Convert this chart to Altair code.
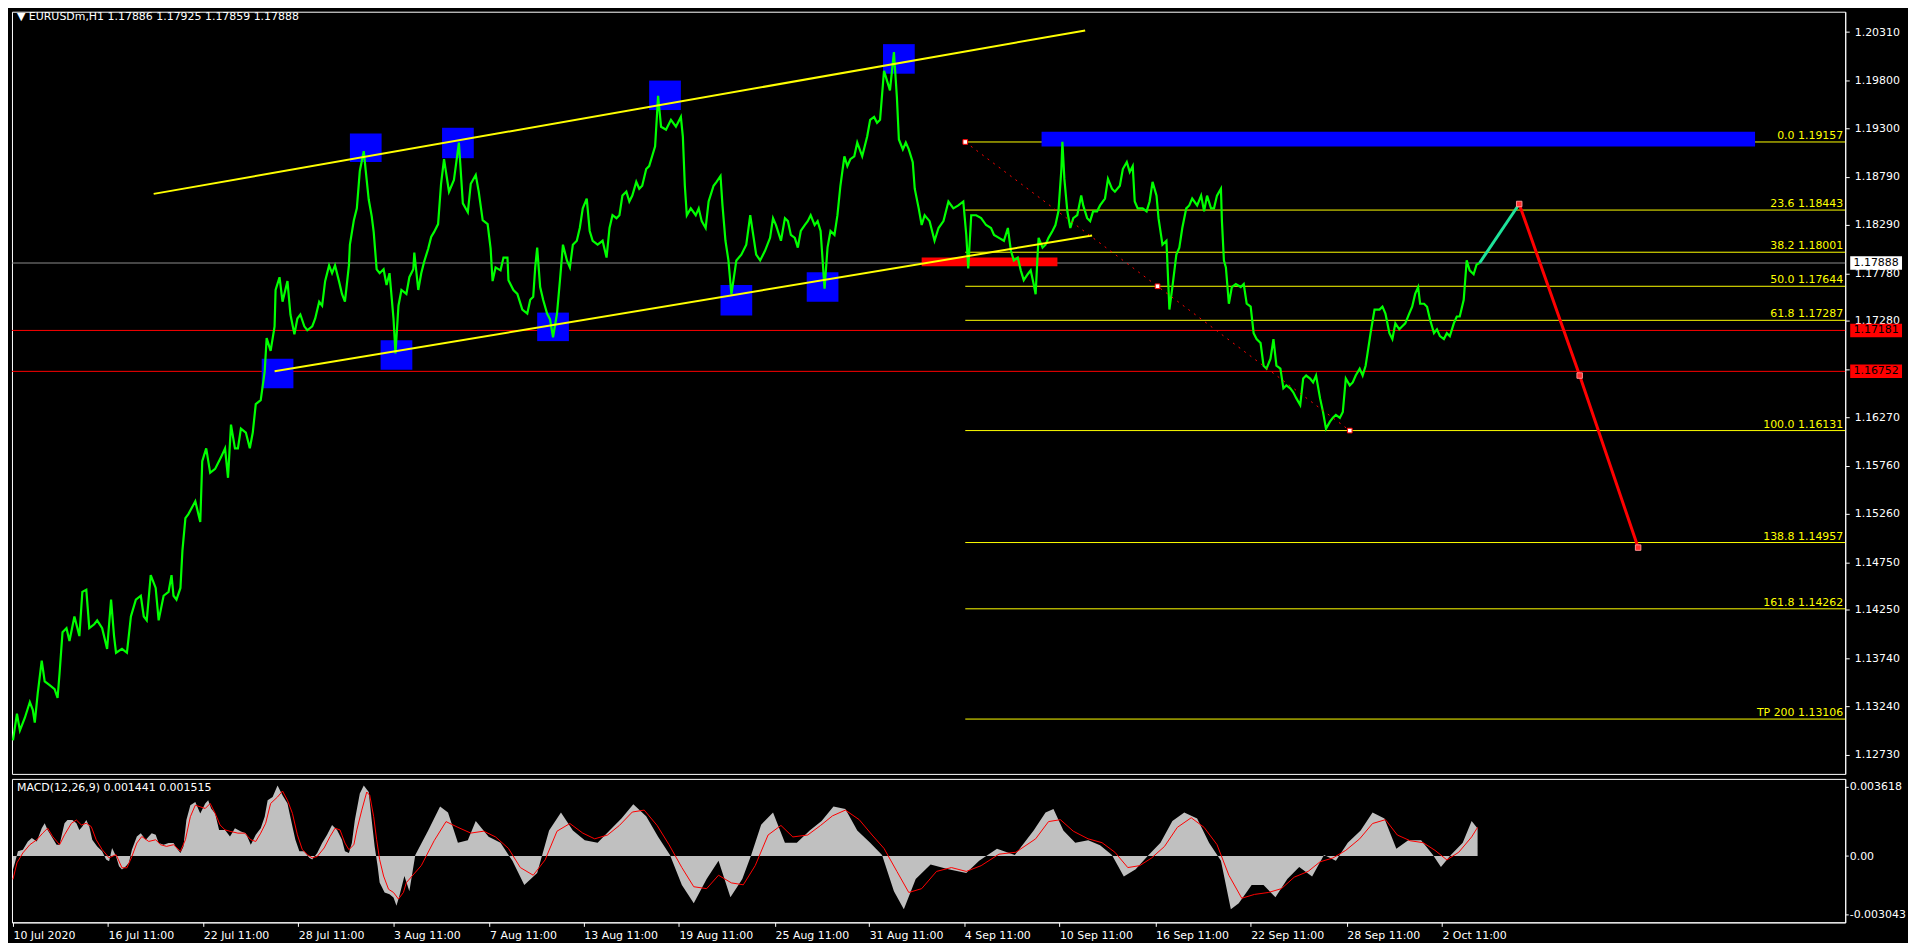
import altair as alt
import pandas as pd

# ---------------- data ----------------
bars = [3, 7, 10, 15, 20, 23, 25, 28, 32, 35, 40, 45, 48, 50, 53, 57, 60, 65, 70, 73, 77, 80, 85, 88, 93, 98,
        102, 105, 107, 113, 118, 122, 127, 132, 135, 138, 142, 147, 150, 155, 160, 163, 165, 168, 172, 174, 177,
        180, 187, 192, 194, 198, 202, 207, 213, 217, 220, 223, 227, 230, 233, 238, 242, 245, 248, 253, 257, 259,
        263, 267, 268, 272, 275, 280, 283, 287, 290, 293, 297, 300, 305, 308, 312, 315, 318, 322, 325, 328, 332,
        335, 338, 342, 343, 347, 350, 353, 357, 359, 362, 365, 367, 370, 373, 377, 380, 383, 387, 389, 392, 395,
        400, 403, 407, 408, 412, 415, 418, 422, 425, 428, 432, 435, 438, 443, 448, 453, 457, 462, 465, 470, 473,
        477, 482, 485, 487,
        490, 495, 498, 502, 503, 508, 512, 517, 522, 525, 528, 530, 532, 535, 538, 542, 545, 548, 552, 555, 558,
        562, 565, 568, 572, 575, 578, 582, 585, 588, 593, 598, 602, 605, 608, 612, 615, 618, 622, 625, 628, 632,
        635, 638, 642, 645, 648, 651, 653, 654, 657, 662, 667, 672, 677, 679, 681, 683, 687, 692, 695, 698, 702,
        705, 710, 713, 717, 719, 722, 725, 728, 733, 738, 743, 747, 750, 753, 757, 762, 767, 770, 773, 778, 782,
        785, 788, 792, 795, 798, 802, 805, 808, 812, 815, 818, 822, 825, 828, 832, 835, 838, 842, 845, 848, 852,
        855, 860, 865, 868, 872, 875, 878, 882, 885, 888, 892, 895, 897, 901, 904, 907, 911, 913, 917, 920, 923,
        928, 933, 937, 942, 947, 952, 957, 962, 965, 967, 970, 975, 980, 985,
        990, 993, 998, 1003, 1007, 1010, 1013, 1017, 1020, 1023, 1027, 1030, 1033, 1035, 1037, 1038, 1042, 1045,
        1048, 1052, 1055, 1058, 1061, 1062, 1064, 1067, 1070, 1073, 1077, 1081, 1083, 1087, 1090, 1093, 1097,
        1100, 1105, 1108, 1112, 1115, 1120, 1123, 1127, 1130, 1133, 1135, 1138, 1143, 1147, 1150, 1153, 1157,
        1159, 1163, 1167, 1170, 1173, 1177, 1180, 1183, 1187, 1190, 1193, 1198, 1202, 1205, 1208, 1212, 1215,
        1218, 1222, 1223, 1225, 1227, 1230, 1233, 1237, 1242, 1245, 1248, 1252, 1255, 1258, 1262, 1265, 1268,
        1272, 1275, 1278, 1282, 1285, 1288, 1292, 1295, 1298, 1302, 1305, 1308, 1312, 1315, 1318, 1322, 1325,
        1328, 1332, 1335, 1338, 1342, 1345, 1348, 1352, 1355, 1358, 1362, 1365, 1368, 1370, 1373, 1377, 1382,
        1385, 1388, 1392, 1395, 1398, 1402, 1405, 1408, 1412, 1415, 1418, 1421, 1423, 1427, 1430, 1433, 1437,
        1440, 1443, 1447, 1450, 1453, 1457, 1460, 1463, 1467, 1470, 1473, 1477, 1480, 1483]

close = [1.12883, 1.13162, 1.12986, 1.13120, 1.13285, 1.13203, 1.13069, 1.13378, 1.13718, 1.13502, 1.13461,
         1.13419, 1.13327, 1.13584, 1.14017, 1.14059, 1.13925, 1.14182, 1.13976, 1.14440, 1.14461, 1.14059,
         1.14100, 1.14141, 1.14059, 1.13842,
         1.14358, 1.13976, 1.13801, 1.13842, 1.13801, 1.14182, 1.14358, 1.14399, 1.14182, 1.14141, 1.14615,
         1.14481, 1.14141, 1.14399, 1.14440, 1.14615, 1.14399, 1.14358, 1.14481, 1.14873, 1.15213,
         1.15255, 1.15389, 1.15172, 1.15811, 1.15945, 1.15688, 1.15729, 1.15853, 1.15945, 1.15636, 1.16193,
         1.15945, 1.15945, 1.16152, 1.16110, 1.15945, 1.16110, 1.16409, 1.16451, 1.16750, 1.17100,
         1.16966, 1.17224, 1.17605, 1.17739, 1.17482, 1.17698, 1.17348, 1.17141, 1.17306, 1.17348, 1.17224,
         1.17183, 1.17224, 1.17306, 1.17482, 1.17440, 1.17698, 1.17863, 1.17781, 1.17863, 1.17698,
         1.17564, 1.17482, 1.17863, 1.18080, 1.18337, 1.18461, 1.18853, 1.19060, 1.18853, 1.18554, 1.18379,
         1.18214, 1.17822, 1.17781, 1.17822, 1.17657, 1.17781, 1.17306, 1.16940, 1.17440, 1.17605,
         1.17564, 1.17739, 1.17822, 1.17997, 1.17605, 1.17781, 1.17904, 1.18038, 1.18162, 1.18214, 1.18296,
         1.18719, 1.18976, 1.18636, 1.18760, 1.19150, 1.18513, 1.18420, 1.18719, 1.18812, 1.18636,
         1.18337, 1.18296, 1.18038, 1.17698,
         1.17842, 1.17811, 1.17945, 1.17945, 1.17708, 1.17605, 1.17564, 1.17399, 1.17358, 1.17502, 1.17533,
         1.17842, 1.18049, 1.17636, 1.17502, 1.17358, 1.17296, 1.17110, 1.17358, 1.17708, 1.18080,
         1.17915, 1.17842, 1.18080, 1.18121, 1.18255, 1.18461, 1.18564, 1.18224, 1.18121, 1.18080, 1.18121,
         1.17945, 1.18255, 1.18389, 1.18358, 1.18389, 1.18595, 1.18636, 1.18533, 1.18595, 1.18739,
         1.18667, 1.18698, 1.18873, 1.18904, 1.19007, 1.19111, 1.19461, 1.19640, 1.19317, 1.19286, 1.19389,
         1.19317, 1.19420, 1.19214, 1.18698, 1.18389, 1.18461, 1.18389, 1.18461, 1.18327, 1.18255,
         1.18533, 1.18698, 1.18739, 1.18801, 1.18492, 1.18121, 1.17915, 1.17560, 1.17915, 1.17976, 1.18080,
         1.18389, 1.18183, 1.17976, 1.17915, 1.18018, 1.18152, 1.18358, 1.18286, 1.18121, 1.18358,
         1.18327, 1.18183, 1.18152, 1.18049, 1.18224, 1.18286, 1.18327, 1.18389, 1.18286, 1.18327, 1.18224,
         1.17620, 1.18049, 1.18224, 1.18183, 1.18389, 1.18698, 1.19007, 1.18904, 1.18976, 1.19007,
         1.19152, 1.19007, 1.19214, 1.19389, 1.19420, 1.19358, 1.19389, 1.19904, 1.19801, 1.19698, 1.20100,
         1.19626, 1.19183, 1.19080, 1.19152, 1.19080, 1.18946, 1.18667, 1.18461, 1.18286, 1.18389,
         1.18327, 1.18121, 1.18255, 1.18327, 1.18533, 1.18461, 1.18492, 1.18533, 1.18183, 1.17830, 1.18389,
         1.18389, 1.18358, 1.18286,
         1.18255, 1.18183, 1.18152, 1.18121, 1.18255, 1.18018, 1.17915, 1.17945, 1.17811, 1.17708, 1.17770,
         1.17811, 1.17667, 1.17560, 1.17976, 1.18152, 1.18049, 1.18080,
         1.18152, 1.18224, 1.18286, 1.18430, 1.18873, 1.19160, 1.18770, 1.18430, 1.18255, 1.18358, 1.18389,
         1.18595, 1.18492, 1.18358, 1.18327, 1.18430, 1.18430,
         1.18492, 1.18564, 1.18770, 1.18667, 1.18636, 1.18698, 1.18873, 1.18946, 1.18842, 1.18904, 1.18533,
         1.18461, 1.18461, 1.18430, 1.18533, 1.18739, 1.18595,
         1.18358, 1.18080, 1.18121, 1.17400, 1.17636, 1.17976, 1.18049, 1.18255, 1.18461, 1.18492, 1.18564,
         1.18492, 1.18595, 1.18430, 1.18595, 1.18461, 1.18461,
         1.18595, 1.18667, 1.18327, 1.17915, 1.17842, 1.17461, 1.17636, 1.17667, 1.17636, 1.17667, 1.17461,
         1.17430, 1.17152, 1.17090, 1.17049, 1.16811, 1.16780,
         1.16884, 1.17090, 1.16811, 1.16780, 1.16574, 1.16605, 1.16574, 1.16533, 1.16471, 1.16399, 1.16677,
         1.16708, 1.16677, 1.16636, 1.16708, 1.16471, 1.16327,
         1.16150, 1.16224, 1.16265, 1.16296, 1.16265, 1.16327, 1.16677, 1.16605, 1.16636, 1.16708, 1.16780,
         1.16708, 1.16811, 1.16945, 1.17152, 1.17399, 1.17399,
         1.17430, 1.17358, 1.17152, 1.17090, 1.17255, 1.17193, 1.17224, 1.17255, 1.17358, 1.17430, 1.17564,
         1.17636, 1.17461, 1.17461, 1.17430, 1.17296, 1.17152,
         1.17193, 1.17121, 1.17090, 1.17152, 1.17121, 1.17255, 1.17327, 1.17327, 1.17502, 1.17915, 1.17811,
         1.17770, 1.17873, 1.17888]

# MACD histogram (main line) and signal line
macd_bars = [3, 5, 8, 13, 18, 22, 27, 32, 35, 38, 42, 47, 50, 55, 58, 63, 67, 70, 73, 77, 80, 83, 88, 93, 97,
             100, 103, 107, 110, 113, 117, 120, 123, 128, 132, 137, 140, 143, 147, 150, 155, 160, 165, 168, 172,
             175, 178, 182, 187, 192, 197, 200, 203, 207, 211, 217, 222, 227, 233, 238, 243, 248, 253, 257, 260,
             265, 270, 275, 280, 285, 288, 292, 297, 302, 305, 310, 315, 320, 325, 330, 335, 338, 342, 345, 348,
             353, 357, 362, 365, 368, 371, 373, 378, 383, 387, 390, 393, 398,
             403, 409, 422, 434, 442, 452, 462, 470, 483, 495, 507, 519, 532, 544, 556, 568, 580, 593, 605, 617,
             629, 642, 654, 666, 678, 690, 703, 715, 727, 739, 748, 758, 770, 782, 794, 807, 819, 831, 843, 855,
             868, 880, 892, 902, 914, 929, 947, 965, 978, 996, 1014, 1033, 1045, 1053, 1063, 1075, 1088, 1100,
             1112, 1124, 1136, 1149, 1161, 1173, 1185, 1198, 1210, 1222, 1232, 1240, 1253, 1265, 1277, 1289, 1301,
             1314, 1326, 1338, 1350, 1363, 1375, 1387, 1399, 1411, 1424, 1436, 1444, 1454, 1466, 1475, 1481]
macd_main = [-0.000697, -0.000351, 0.000248, 0.000335, 0.000764, 0.000939, 0.000764, 0.001455, 0.001713,
             0.001367, 0.001022, 0.000593, 0.000593, 0.001713, 0.001883, 0.001883, 0.001713, 0.001367, 0.001538,
             0.001883, 0.001538, 0.000851, 0.000506, 0.000248, -0.000181,
             -0.000268, 0.000423, -0.000010, -0.000526, -0.000697, -0.000526, -0.000351, 0.000335, 0.001022,
             0.001197, 0.000851, 0.001022, 0.001197, 0.001109, 0.000681, 0.000593, 0.000681, 0.000681, 0.000423,
             0.000165,
             0.000506, 0.001883, 0.002657, 0.002828, 0.002229, 0.002745, 0.002915, 0.002487, 0.002229, 0.001367,
             0.001367, 0.001022, 0.001455, 0.001280, 0.001197, 0.000593, 0.001109, 0.001455, 0.002054, 0.002915,
             0.003086, 0.003689, 0.003173, 0.002745, 0.001538, 0.000851, 0.000248, 0.000248, -0.000093,
             -0.000181, 0.000165, 0.000681, 0.001109, 0.001625, 0.001367, 0.000851, 0.000248, 0.000165,
             0.000681, 0.001883,
             0.003261, 0.003689, 0.003344, 0.001883, 0.000506, -0.000526, -0.001383, -0.001899, -0.001987,
             -0.002157, -0.002590, -0.002074, -0.001042,
             -0.00183, 0.00006, 0.00133, 0.00259, 0.00227, 0.00069, 0.00082, 0.00183, 0.00101, 0.00069, -0.00025,
             -0.00151, -0.00088, 0.00133, 0.00227, 0.00133, 0.00082, 0.00069, 0.00133, 0.00196,
             0.00271, 0.00208, 0.00101, 0.00006, -0.00151, -0.00246, -0.00120, -0.00025, -0.00215, -0.00120,
             0.00006, 0.00164, 0.00227, 0.00069, 0.00069, 0.00133, 0.00183, 0.00259, 0.00246, 0.00133,
             0.00069, 0.00006, -0.00183, -0.00278, -0.00120, -0.00044, -0.00069, -0.00088, -0.00025, 0.00038,
             0.00006, 0.00133, 0.00227, 0.00246, 0.00133, 0.00069, 0.00082, 0.00057,
             0.00006, -0.00107, -0.00069, 0.00006, 0.00069, 0.00183, 0.00227, 0.00196, 0.00069, -0.00025,
             -0.00278, -0.00246, -0.00151, -0.00151, -0.00215, -0.00120, -0.00057,
             -0.00107, 0.00006, -0.00025, 0.00069, 0.00133, 0.00227, 0.00196, 0.00038, 0.00082, 0.00082,
             0.00006, -0.00057, 0.00006, 0.00069, 0.00183, 0.00144]

signal_bars = [3, 7, 13, 20, 27, 33, 38, 43, 50, 55, 62, 67, 72, 77, 82, 87, 93, 100, 107, 113, 118, 123, 128,
               133, 140, 147, 152, 158, 165, 172, 177, 182, 187, 192, 197, 202, 207, 212, 217, 223, 230, 237,
               243, 248, 253, 258, 263, 270, 275, 280, 285, 290, 295, 300, 305, 310, 317, 323, 328, 333, 338,
               342, 347, 350, 355, 360, 363, 367, 370, 373, 377, 382, 387, 392, 397, 400,
               415, 428, 440, 452, 465, 478, 490, 503, 515, 528, 540, 552, 565, 578, 590, 603, 615, 628, 640,
               653, 665, 678, 690, 703, 715, 728, 740, 752, 765, 778, 790, 805, 818, 830, 843, 857, 870, 882,
               895, 907, 920, 935, 950, 965, 980, 998, 1015, 1035, 1048, 1060, 1073, 1088, 1102, 1115, 1128,
               1140, 1152, 1165, 1178, 1192, 1205, 1218, 1230, 1243, 1256, 1270, 1283, 1296, 1310, 1322, 1335,
               1348, 1362, 1375, 1388, 1400, 1413, 1426, 1438, 1450, 1462, 1475, 1481]
signal_vals = [-0.001213, -0.000351, 0.000165, 0.000593, 0.000851, 0.001197, 0.001455, 0.001022, 0.000593,
               0.001109, 0.001713, 0.001883, 0.001625, 0.001713, 0.001538, 0.000851, 0.000335, -0.000093,
               0.000078, -0.000611, -0.000611, -0.000024, 0.000681, 0.001022, 0.000764, 0.000851, 0.000593,
               0.000506, 0.000593, 0.000248, 0.000851, 0.002054, 0.002657, 0.002570, 0.002487, 0.002745,
               0.002229, 0.001625, 0.001367, 0.001280, 0.001197, 0.001197, 0.000851, 0.000764, 0.001197,
               0.001713, 0.002745, 0.003086, 0.003395, 0.002915, 0.002229, 0.001109, 0.000335, 0.000078,
               -0.000093, -0.000024, 0.000423, 0.001022, 0.001455, 0.001367, 0.000681, 0.000335, 0.000593,
               0.001367, 0.002399, 0.003344, 0.003173, 0.002054, 0.000851, -0.000181, -0.001042, -0.001731,
               -0.001899, -0.002243, -0.001899, -0.001383,
               -0.0005, 0.0008, 0.0018, 0.0015, 0.0012, 0.0013, 0.0010, 0.0004, -0.0006, -0.0010, -0.0002,
               0.0013, 0.0017, 0.0012, 0.0009, 0.0011, 0.0016, 0.0023, 0.0024, 0.0016, 0.0006, -0.0006,
               -0.0016, -0.0017, -0.0010, -0.0014, -0.0015, -0.0005, 0.0011, 0.0016, 0.0010, 0.0011, 0.0016,
               0.0021, 0.0024, 0.0019, 0.0011, 0.0004, -0.0008, -0.0019, -0.0017, -0.0008, -0.0006, -0.0008,
               -0.0005, 0.0001, 0.0002, 0.0009, 0.0018, 0.0019, 0.0013, 0.0009, 0.0007, 0.0002, -0.0006,
               -0.0005, -0.0001, 0.0005, 0.0015, 0.0020, 0.0015, 0.0006, -0.0010, -0.0022, -0.0020, -0.0019,
               -0.0017, -0.0011, -0.0008, -0.0003, -0.0001, 0.0003, 0.0009, 0.0017, 0.0019, 0.0011, 0.0008,
               0.0007, 0.0003, -0.0002, 0.0002, 0.0010, 0.0015]

# axes
xtick_bars = [3, 99, 195, 291, 387, 484, 579, 675, 772, 867, 963, 1059, 1156, 1252, 1349, 1445]
xtick_labels = ["10 Jul 2020", "16 Jul 11:00", "22 Jul 11:00", "28 Jul 11:00", "3 Aug 11:00", "7 Aug 11:00",
                "13 Aug 11:00", "19 Aug 11:00", "25 Aug 11:00", "31 Aug 11:00", "4 Sep 11:00", "10 Sep 11:00",
                "16 Sep 11:00", "22 Sep 11:00", "28 Sep 11:00", "2 Oct 11:00"]
price_ticks = [1.20310, 1.19800, 1.19300, 1.18790, 1.18290, 1.17780, 1.17280, 1.16770, 1.16270, 1.15760,
               1.15260, 1.14750, 1.14250, 1.13740, 1.13240, 1.12730]
macd_ticks = [0.003618, 0.0, -0.003043]

# Fibonacci levels
fib_names = ["0.0", "23.6", "38.2", "50.0", "61.8", "100.0", "138.8", "161.8", "TP 200"]
fib_prices = [1.19157, 1.18443, 1.18001, 1.17644, 1.17287, 1.16131, 1.14957, 1.14262, 1.13106]
fib_start_bar = 964
fib_diag_bars = [964, 1158, 1352]
fib_diag_prices = [1.19157, 1.17644, 1.16131]

# horizontal lines
red_levels = [1.17181, 1.16752]
current_price = 1.17888

# blue swing boxes
box_x1 = [254, 343, 374, 436, 532, 645, 717, 804, 881]
box_x2 = [286, 375, 406, 468, 564, 677, 749, 836, 913]
box_lo = [1.16574, 1.18946, 1.16770, 1.18987, 1.17069, 1.19492, 1.17337, 1.17482, 1.19873]
box_hi = [1.16884, 1.19245, 1.17079, 1.19306, 1.17368, 1.19801, 1.17657, 1.17791, 1.20183]

# zones
zone_blue = {"x1": [1041], "x2": [1761], "lo": [1.19110], "hi": [1.19265]}
zone_red = {"x1": [920], "x2": [1057], "lo": [1.17853], "hi": [1.17945]}

# channel lines
chan_up_bars = [145, 1085]
chan_up_prices = [1.18613, 1.20327]
chan_lo_bars = [267, 1092]
chan_lo_prices = [1.16752, 1.18177]

# projection
proj_up_bars = [1483, 1523]
proj_up_prices = [1.17888, 1.18507]
proj_dn_bars = [1523, 1584, 1643]
proj_dn_prices = [1.18507, 1.16708, 1.14904]

header_text = "\u25bc EURUSDm,H1  1.17886 1.17925 1.17859 1.17888"
macd_header = "MACD(12,26,9) 0.001441 0.001515"

# ---------------- chart ----------------
W = 1840
H_MAIN = 765
H_MACD = 144
FONT = "DejaVu Sans"

xscale = alt.Scale(domain=[2, 1852], nice=False, zero=False)
yscale = alt.Scale(domain=[1.12531, 1.20523], nice=False, zero=False)
mscale = alt.Scale(domain=[-0.00346, 0.00403], nice=False, zero=False)

price_axis = alt.Axis(orient="right", values=price_ticks, format=".5f", tickSize=4, labelPadding=5,
                      labelOverlap=False, labelFlush=False, labelBound=False, title=None, grid=False)

X = lambda f: alt.X(f, type="quantitative", scale=xscale, axis=None)
Y = lambda f: alt.Y(f, type="quantitative", scale=yscale, axis=price_axis)

price_df = pd.DataFrame({"bar": bars, "close": close})
base_line = alt.Chart(price_df).mark_line(color="#00ff00", strokeWidth=2.2).encode(
    x=X("bar"), y=Y("close"))

red_df = pd.DataFrame({"p": red_levels})
red_rules = alt.Chart(red_df).mark_rule(color="#ff0000", strokeWidth=1).encode(y=Y("p"))
cur_df = pd.DataFrame({"p": [current_price]})
cur_rule = alt.Chart(cur_df).mark_rule(color="#8c8c8c", strokeWidth=1).encode(y=Y("p"))

fib_df = pd.DataFrame({"name": fib_names, "p": fib_prices, "x1": [fib_start_bar] * len(fib_names)})
fib_df["label"] = fib_df["name"] + " " + fib_df["p"].map(lambda v: f"{v:.5f}")
fib_rules = alt.Chart(fib_df).mark_rule(color="#ffff00", strokeWidth=1).encode(
    x=X("x1"), x2=alt.value(W), y=Y("p"))
fib_text = alt.Chart(fib_df).mark_text(color="#ffff00", font=FONT, fontSize=11, align="right",
                                       baseline="bottom", dy=-1).encode(
    x=alt.value(W - 2), y=Y("p"), text="label")

zb = alt.Chart(pd.DataFrame(zone_blue)).mark_rect(color="#0000ff").encode(
    x=X("x1"), x2="x2", y=Y("lo"), y2="hi")
zr = alt.Chart(pd.DataFrame(zone_red)).mark_rect(color="#ff0000").encode(
    x=X("x1"), x2="x2", y=Y("lo"), y2="hi")

box_df = pd.DataFrame({"x1": box_x1, "x2": box_x2, "lo": box_lo, "hi": box_hi})
boxes = alt.Chart(box_df).mark_rect(color="#0000ff").encode(x=X("x1"), x2="x2", y=Y("lo"), y2="hi")

up_df = pd.DataFrame({"bar": chan_up_bars, "p": chan_up_prices})
lo_df = pd.DataFrame({"bar": chan_lo_bars, "p": chan_lo_prices})
chan_up = alt.Chart(up_df).mark_line(color="#ffff00", strokeWidth=2).encode(x=X("bar"), y=Y("p"))
chan_lo = alt.Chart(lo_df).mark_line(color="#ffff00", strokeWidth=2).encode(x=X("bar"), y=Y("p"))

diag_df = pd.DataFrame({"bar": fib_diag_bars, "p": fib_diag_prices})
diag = alt.Chart(diag_df).mark_line(color="#ff0000", strokeWidth=1, strokeDash=[2, 5]).encode(
    x=X("bar"), y=Y("p"))
diag_pts = alt.Chart(diag_df).mark_square(size=22, fill="#ffffff", stroke="#ff0000", strokeWidth=1,
                                          opacity=1).encode(x=X("bar"), y=Y("p"))

pu_df = pd.DataFrame({"bar": proj_up_bars, "p": proj_up_prices})
pd_df = pd.DataFrame({"bar": proj_dn_bars, "p": proj_dn_prices})
proj_up = alt.Chart(pu_df).mark_line(color="#1ee39a", strokeWidth=3).encode(x=X("bar"), y=Y("p"))
proj_dn = alt.Chart(pd_df).mark_line(color="#ff0000", strokeWidth=3).encode(x=X("bar"), y=Y("p"))
proj_pts = alt.Chart(pd_df).mark_square(size=30, fill="#ff3030", stroke="#ff9090", strokeWidth=1,
                                        opacity=1).encode(x=X("bar"), y=Y("p"))

hdr = alt.Chart(pd.DataFrame({"t": [header_text]})).mark_text(
    color="#ffffff", font=FONT, fontSize=11, align="left", baseline="middle").encode(
    x=alt.value(5), y=alt.value(5), text="t")

BOX_SHAPE = "M-1,-0.26H1V0.26H-1Z"
tag_df = pd.DataFrame({"p": [current_price] + red_levels,
                       "label": [f"{current_price:.5f}"] + [f"{v:.5f}" for v in red_levels],
                       "kind": ["cur", "red", "red"]})
tag_box = alt.Chart(tag_df).mark_point(shape=BOX_SHAPE, size=2704, filled=True, opacity=1).encode(
    x=alt.value(W + 31), y=Y("p"),
    color=alt.Color("kind:N", scale=alt.Scale(domain=["cur", "red"], range=["#ffffff", "#ff0000"]),
                    legend=None))
tag_text = alt.Chart(tag_df).mark_text(color="#000000", font=FONT, fontSize=11, align="center",
                                       baseline="middle").encode(
    x=alt.value(W + 31), y=Y("p"), text="label")

main = alt.layer(
    red_rules, cur_rule, fib_rules, zb, zr, boxes, base_line,
    chan_up, chan_lo, diag, diag_pts, proj_up, proj_dn, proj_pts, fib_text, hdr, tag_box, tag_text
).properties(width=W, height=H_MAIN)

# MACD panel
xlabel_expr = ("[" + ",".join(f"'{s}'" for s in xtick_labels) + "][indexof(["
               + ",".join(str(v) for v in xtick_bars) + "], datum.value)]")
macd_df = pd.DataFrame({"bar": macd_bars, "v": macd_main})
sig_df = pd.DataFrame({"bar": signal_bars, "v": signal_vals})

macd_yaxis = alt.Axis(orient="right", values=macd_ticks, tickSize=3, labelPadding=1, labelOverlap=False,
                      labelFlush=False, labelBound=False, title=None, grid=False,
                      labelExpr="datum.value > 0.001 ? '0.003618' : (datum.value < -0.001 ? '-0.003043' : '0.00')")
macd_xaxis = alt.Axis(values=xtick_bars, labelExpr=xlabel_expr, labelAlign="left", tickSize=4,
                      labelPadding=3, labelOverlap=False, labelFlush=False, labelBound=False, title=None,
                      grid=False)

hist = alt.Chart(macd_df).mark_area(color="#c0c0c0", opacity=1).encode(
    x=alt.X("bar:Q", scale=xscale, axis=macd_xaxis),
    y=alt.Y("v:Q", scale=mscale, axis=macd_yaxis),
    y2=alt.datum(0),
)
sig = alt.Chart(sig_df).mark_line(color="#ff0000", strokeWidth=1).encode(
    x=alt.X("bar:Q", scale=xscale, axis=macd_xaxis), y=alt.Y("v:Q", scale=mscale, axis=macd_yaxis))
mhdr = alt.Chart(pd.DataFrame({"t": [macd_header]})).mark_text(
    color="#ffffff", font=FONT, fontSize=11, align="left", baseline="middle").encode(
    x=alt.value(5), y=alt.value(9), text="t")

macd = alt.layer(hist, sig, mhdr).properties(width=W, height=H_MACD)

chart = alt.vconcat(main, macd, spacing=3).configure(
    background="#000000",
    padding={"left": 0, "top": 0, "right": 2, "bottom": 0},
).configure_view(stroke="#ffffff", strokeWidth=1).configure_axis(
    labelColor="#ffffff", tickColor="#ffffff", domainColor="#ffffff", labelFont=FONT, labelFontSize=11,
    domainWidth=1, tickWidth=1,
)

chart.save("out.html", embed_options={"renderer": "svg", "actions": False})
